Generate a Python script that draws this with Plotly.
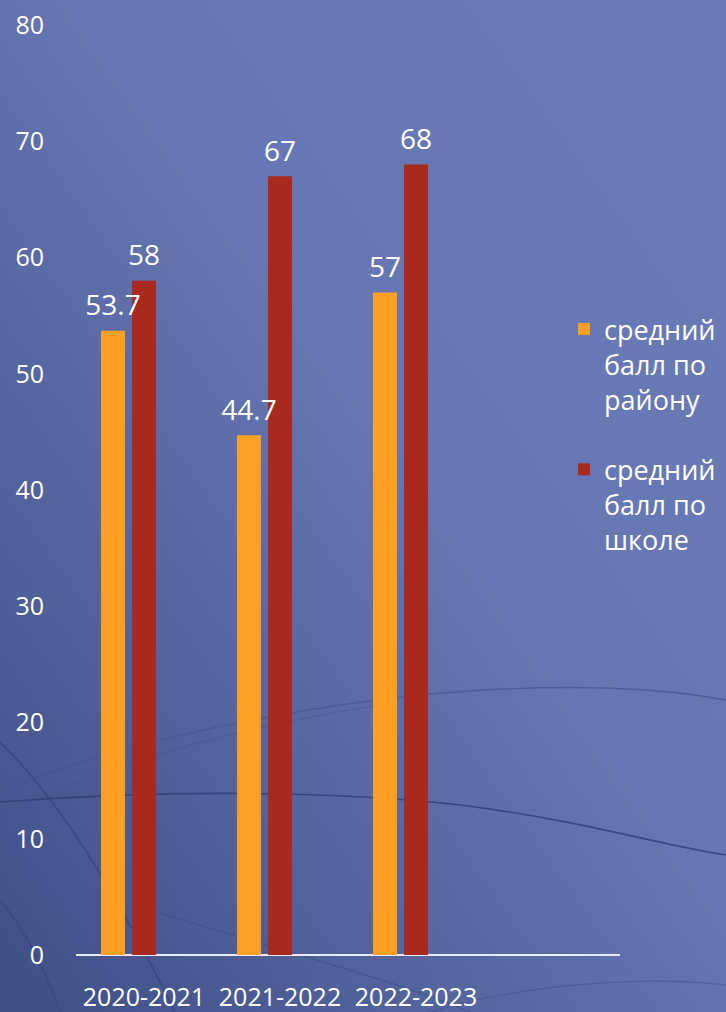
import base64
import plotly.graph_objects as go

categories = ["2020-2021", "2021-2022", "2022-2023", ""]
district_avg = [53.7, 44.7, 57, None]
school_avg = [58, 67, 68, None]
empty_series = [None, None, None, None]
district_name = "средний<br>балл по<br>району"
school_name = "средний<br>балл по<br>школе"
y_ticks = [0, 10, 20, 30, 40, 50, 60, 70, 80]

W, H = 726, 1012
L, R, T, B = 76, 106, 25, 57
FONT = "Open Sans"

svg = f'''<svg xmlns="http://www.w3.org/2000/svg" width="{W}" height="{H}" viewBox="0 0 {W} {H}">
<defs>
<linearGradient id="g" x1="1" y1="0" x2="0" y2="1">
<stop offset="0" stop-color="#6b7bb7"/>
<stop offset="0.45" stop-color="#6676b2"/>
<stop offset="1" stop-color="#3f4e85"/>
</linearGradient>
</defs>
<rect width="{W}" height="{H}" fill="url(#g)"/>
<g fill="none" stroke-linecap="round">
<path d="M0,802 C150,790 330,790 460,805 C580,820 660,845 726,855" stroke="#2c3b70" stroke-opacity="0.75" stroke-width="1.6"/>
<path d="M0,790 C120,745 260,712 420,695 C560,682 660,688 726,700" stroke="#44558c" stroke-opacity="0.7" stroke-width="1.4"/>
<path d="M0,812 C120,760 250,725 380,705" stroke="#44558c" stroke-opacity="0.55" stroke-width="1.2"/>
<path d="M0,742 C60,800 120,900 175,1012" stroke="#33427a" stroke-opacity="0.7" stroke-width="1.4"/>
<path d="M0,900 C25,930 45,970 60,1012" stroke="#33427a" stroke-opacity="0.6" stroke-width="1.2"/>
<path d="M150,910 C260,945 380,975 470,1012" stroke="#3a4a80" stroke-opacity="0.5" stroke-width="1.2"/>
<path d="M430,1012 C520,985 640,975 726,985" stroke="#3a4a80" stroke-opacity="0.45" stroke-width="1.2"/>
</g>
</svg>'''
bg_uri = "data:image/svg+xml;base64," + base64.b64encode(svg.encode("utf-8")).decode("ascii")

pw, ph = W - L - R, H - T - B
# small base size: the trailing blank line adds a little space under each label
label_font = dict(color="white", size=8, family=FONT)

def fmt(vals):
    return [("" if v is None else
             f"<span style='font-size:28px'>{v:g}</span><br>&nbsp;")
            for v in vals]

fig = go.Figure()
fig.add_trace(go.Bar(
    x=categories, y=district_avg, name=district_name, legendgroup="d",
    offsetgroup="1", marker=dict(color="#ffa024", line=dict(width=0)),
))
fig.add_trace(go.Bar(
    x=categories, y=school_avg, name=school_name, legendgroup="s",
    offsetgroup="2", marker=dict(color="#a82a1e", line=dict(width=0)),
    text=fmt(school_avg), textposition="outside", cliponaxis=False,
    constraintext="none", textfont=label_font,
))
fig.add_trace(go.Bar(
    x=categories, y=empty_series, name="", showlegend=False, legendgroup="e",
    offsetgroup="3", marker=dict(color="rgba(0,0,0,0)"), hoverinfo="skip",
))
# district value labels drawn last so they sit above the neighbouring bars
fig.add_trace(go.Bar(
    x=categories, y=district_avg, name="", showlegend=False, legendgroup="d",
    offsetgroup="1", marker=dict(color="rgba(0,0,0,0)", line=dict(width=0)),
    text=fmt(district_avg), textposition="outside", cliponaxis=False,
    constraintext="none", textfont=label_font, hoverinfo="skip",
))

fig.update_layout(
    width=W, height=H,
    margin=dict(l=L, r=R, t=T, b=B, pad=0, autoexpand=False),
    barmode="group", bargap=0.316, bargroupgap=0.226,
    paper_bgcolor="#5868a2", plot_bgcolor="rgba(0,0,0,0)",
    font=dict(family=FONT, color="white", size=25),
    showlegend=True,
    legend=dict(
        x=0.897, y=0.699, xanchor="left", yanchor="top",
        bgcolor="rgba(0,0,0,0)", font=dict(size=27, color="white", family=FONT),
        tracegroupgap=32, valign="top", traceorder="grouped",
    ),
    images=[dict(
        source=bg_uri, xref="paper", yref="paper",
        x=-L / pw, y=1 + T / ph, sizex=W / pw, sizey=H / ph,
        xanchor="left", yanchor="top", sizing="stretch", layer="below",
    )],
    xaxis=dict(
        type="category", showgrid=False, zeroline=False, automargin=False,
        showline=False, ticks="", ticklabelstandoff=25,
        tickfont=dict(size=25, color="white", family=FONT),
    ),
    yaxis=dict(
        range=[0, 80], tickvals=y_ticks, showgrid=False, zeroline=True,
        automargin=False,
        zerolinecolor="#e8ecf7", zerolinewidth=2, showline=False, ticks="",
        ticklabelstandoff=31, tickfont=dict(size=25, color="white", family=FONT),
    ),
)

fig.write_html(
    "out.html",
    config={"displayModeBar": False},
    post_script="document.body.style.margin='0';document.body.style.padding='0';document.body.style.overflow='hidden';",
)
